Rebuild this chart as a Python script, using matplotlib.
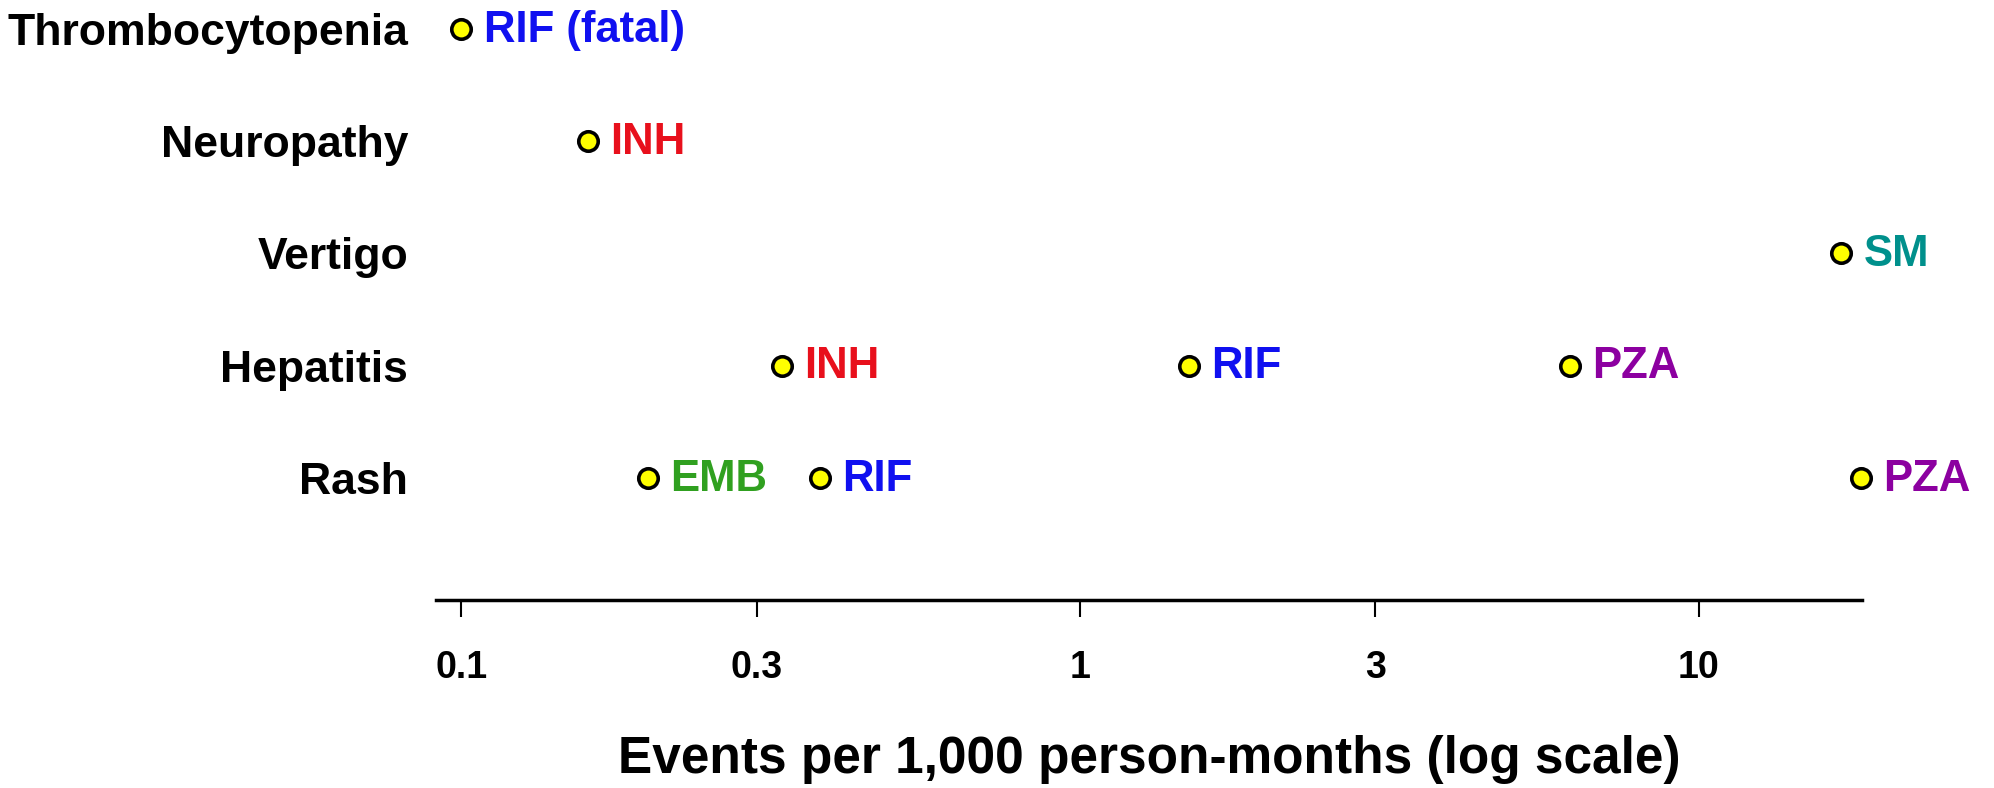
import numpy as np
import matplotlib
matplotlib.use("Agg")
import matplotlib.pyplot as plt

plt.rcParams['font.family'] = ['Liberation Sans', 'DejaVu Sans']
plt.rcParams['font.weight'] = 'bold'

# adverse events, bottom to top
events = ["Rash", "Hepatitis", "Vertigo", "Neuropathy", "Thrombocytopenia"]

# (event, drug label, rate per 1,000 person-months)
point_event = ["Thrombocytopenia", "Neuropathy", "Vertigo",
               "Hepatitis", "Hepatitis", "Hepatitis",
               "Rash", "Rash", "Rash"]
point_drug = ["RIF (fatal)", "INH", "SM",
              "INH", "RIF", "PZA",
              "EMB", "RIF", "PZA"]
point_rate = [0.10, 0.16, 17.0,
              0.33, 1.5, 6.2,
              0.20, 0.38, 18.3]

drug_colors = {"RIF": "#1010f0", "INH": "#e8101c", "SM": "#00908c",
               "PZA": "#8c00a0", "EMB": "#30a020"}

ticks = [0.1, 0.3, 1, 3, 10]
tick_labels = ["0.1", "0.3", "1", "3", "10"]

fig = plt.figure(figsize=(19.94, 7.88), dpi=100)
ax = fig.add_axes([0.2187, 0.2386, 0.7153, 0.7614])

ypos = [events.index(e) for e in point_event]
ax.plot(point_rate, ypos, linestyle="none", marker="o", markersize=14,
        markerfacecolor="#ffff00", markeredgecolor="black",
        markeredgewidth=2.6, clip_on=False, zorder=3)

for x, y, d in zip(point_rate, ypos, point_drug):
    col = drug_colors[d.split()[0]]
    ax.annotate(d, (x, y), xytext=(16, -1), textcoords="offset points",
                ha="left", va="center", color=col, fontsize=31.5,
                fontweight="bold", annotation_clip=False)

ax.set_xscale("log")
ax.set_xlim(0.091, 18.4)
ax.set_ylim(-1.09, 4.26)
ax.set_xticks(ticks)
ax.set_xticklabels(tick_labels)
ax.minorticks_off()
ax.set_yticks(range(len(events)))
ax.set_yticklabels(events)

for s in ["left", "top", "right"]:
    ax.spines[s].set_visible(False)
ax.spines["bottom"].set_linewidth(2.5)
ax.tick_params(axis="y", length=0, pad=20, labelsize=32)
ax.tick_params(axis="x", length=12, width=1.5, pad=24, labelsize=27)
for lab in ax.get_xticklabels() + ax.get_yticklabels():
    lab.set_fontweight("bold")

ax.set_xlabel("Events per 1,000 person-months (log scale)", fontsize=37,
              fontweight="bold", labelpad=35)

fig.savefig("out.png", dpi=100)
